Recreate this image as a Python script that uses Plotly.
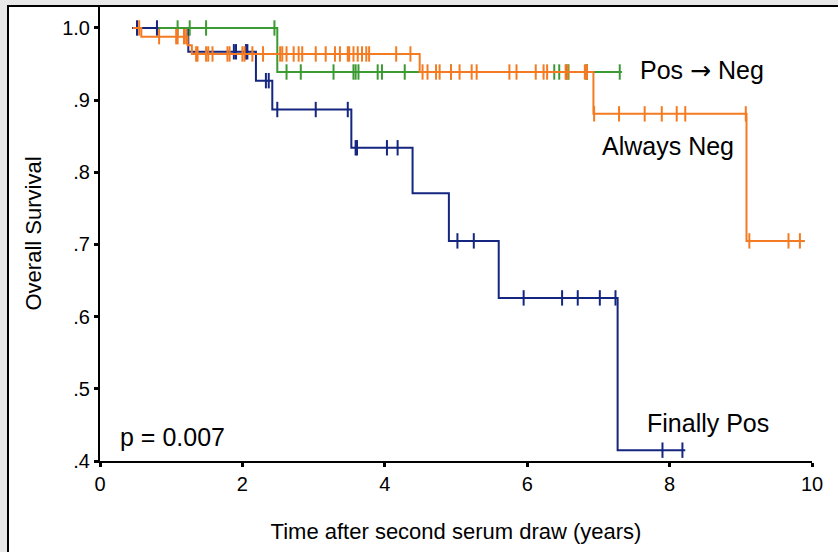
import numpy as np
import plotly.graph_objects as go

# ---------------- data ----------------
# Finally Pos (blue)
fp_start, fp_end = 0.45, 8.22
fp_event_t = [1.24, 2.19, 2.42, 3.53, 4.39, 4.90, 5.60, 7.27]
fp_event_s = [0.967, 0.927, 0.887, 0.834, 0.771, 0.705, 0.626, 0.415]
fp_cens_t = [0.52, 0.80, 1.88, 1.91, 2.05, 2.07, 2.33, 2.37, 2.49, 3.03, 3.48,
             3.59, 3.61, 4.03, 4.18, 5.02, 5.25, 5.95, 6.49, 6.71, 7.02, 7.24,
             7.90, 8.18]

# Pos -> Neg (green)
pn_start, pn_end = 0.82, 7.33
pn_event_t = [2.49]
pn_event_s = [0.939]
pn_cens_t = [1.09, 1.26, 1.49, 2.45, 2.62, 2.82, 3.28, 3.56, 3.59, 3.63, 3.90,
             3.96, 4.28, 4.93, 6.38, 6.45, 6.55, 6.58, 6.83, 6.84, 7.30]

# Always Neg (orange)
an_start, an_end = 0.46, 9.90
an_event_t = [0.58, 1.23, 1.29, 4.49, 6.93, 9.08]
an_event_s = [0.988, 0.976, 0.964, 0.939, 0.881, 0.705]
an_cens_t = [0.55, 0.83, 1.07, 1.09, 1.18, 1.21, 1.35, 1.37, 1.49, 1.52, 1.58,
             1.79, 1.82, 2.00, 2.03, 2.14, 2.29, 2.53, 2.56, 2.62, 2.72, 2.79,
             2.84, 3.03, 3.17, 3.30, 3.37, 3.48, 3.50, 3.56, 3.62, 3.68, 3.74,
             3.78, 4.16, 4.36, 4.53, 4.60, 4.72, 4.77, 4.93, 5.05, 5.22, 5.29,
             5.75, 5.85, 6.12, 6.23, 6.28, 6.54, 6.57, 6.81, 6.84, 6.94, 7.29,
             7.65, 7.89, 8.10, 8.22, 9.07, 9.12, 9.67, 9.83]

x_ticks = [0, 2, 4, 6, 8, 10]
x_tick_labels = ["0", "2", "4", "6", "8", "10"]
y_ticks = [0.4, 0.5, 0.6, 0.7, 0.8, 0.9, 1.0]
y_tick_labels = [".4", ".5", ".6", ".7", ".8", ".9", "1.0"]

BLUE = "#14267f"
GREEN = "#3c9a32"
ORANGE = "#f47b22"


def step_xy(start, end, ev_t, ev_s):
    xs = [start] + list(ev_t) + [end]
    ys = [1.0] + list(ev_s) + [ev_s[-1]]
    return xs, ys


def level_at(t, ev_t, ev_s):
    s = 1.0
    for et, es in zip(ev_t, ev_s):
        if t >= et:
            s = es
    return s


fig = go.Figure()
groups = [
    ("Finally Pos", fp_start, fp_end, fp_event_t, fp_event_s, fp_cens_t, BLUE),
    ("Pos → Neg", pn_start, pn_end, pn_event_t, pn_event_s, pn_cens_t, GREEN),
    ("Always Neg", an_start, an_end, an_event_t, an_event_s, an_cens_t, ORANGE),
]
for name, st, en, et, es, ct, col in groups:
    xs, ys = step_xy(st, en, et, es)
    fig.add_trace(go.Scatter(x=xs, y=ys, mode="lines", line=dict(color=col, width=2, shape="hv"),
                             name=name, showlegend=False, hoverinfo="skip"))
    cy = [level_at(t, et, es) for t in ct]
    fig.add_trace(go.Scatter(x=ct, y=cy, mode="markers",
                             marker=dict(symbol="line-ns", size=11, line=dict(color=col, width=2)),
                             showlegend=False, hoverinfo="skip"))

# figure geometry
W, H = 838, 552
ML, MR, MT, MB = 100, 26, 6, 91
pw, ph = W - ML - MR, H - MT - MB


def px_x(px):
    return (px - ML) / pw


def px_y(py):
    return (H - MB - py) / ph


fig.add_shape(type="rect", xref="paper", yref="paper",
              x0=px_x(8), x1=px_x(1200), y0=px_y(900), y1=px_y(6),
              fillcolor="white", line=dict(color="black", width=2), layer="below")

font_family = "Liberation Sans, Arial, sans-serif"
ann_font = dict(family=font_family, size=25, color="black")
arrow = '<span style="font-family:DejaVu Sans">→</span>'
fig.add_annotation(x=7.56, y=0.9404, text="Pos " + arrow + " Neg", showarrow=False,
                   xanchor="left", yanchor="middle", font=ann_font)
fig.add_annotation(x=7.02, y=0.8365, text="Always Neg", showarrow=False,
                   xanchor="left", yanchor="middle", font=ann_font)
fig.add_annotation(x=7.65, y=0.4527, text="Finally Pos", showarrow=False,
                   xanchor="left", yanchor="middle", font=ann_font)
fig.add_annotation(x=0.25, y=0.4337, text="p = 0.007", showarrow=False,
                   xanchor="left", yanchor="middle", font=ann_font)

fig.update_layout(
    width=W, height=H,
    margin=dict(l=ML, r=MR, t=MT, b=MB, pad=0, autoexpand=False),
    paper_bgcolor="#e8e8e8",
    plot_bgcolor="rgba(0,0,0,0)",
    showlegend=False,
)
fig.update_xaxes(range=[0, 10], tickvals=x_ticks, ticktext=x_tick_labels, automargin=False,
                 showline=True, linecolor="black", linewidth=2, showgrid=False, zeroline=False,
                 ticks="outside", ticklen=4, tickwidth=3, tickcolor="black",
                 tickfont=dict(family=font_family, size=20, color="black"),
                 title=dict(text="Time after second serum draw (years)", standoff=30,
                            font=dict(family=font_family, size=22, color="black")))
fig.update_yaxes(range=[0.4, 0.4 + ph / 721.7], tickvals=y_ticks, ticktext=y_tick_labels,
                 automargin=False,
                 showline=True, linecolor="black", linewidth=2, showgrid=False, zeroline=False,
                 ticks="outside", ticklen=4, tickwidth=3, tickcolor="black",
                 tickfont=dict(family=font_family, size=20, color="black"),
                 title=dict(text="Overall Survival", standoff=14,
                            font=dict(family=font_family, size=22, color="black")))

fig.write_html("out.html", config={"displayModeBar": False},
               post_script="document.body.style.margin='0';document.body.style.padding='0';")
